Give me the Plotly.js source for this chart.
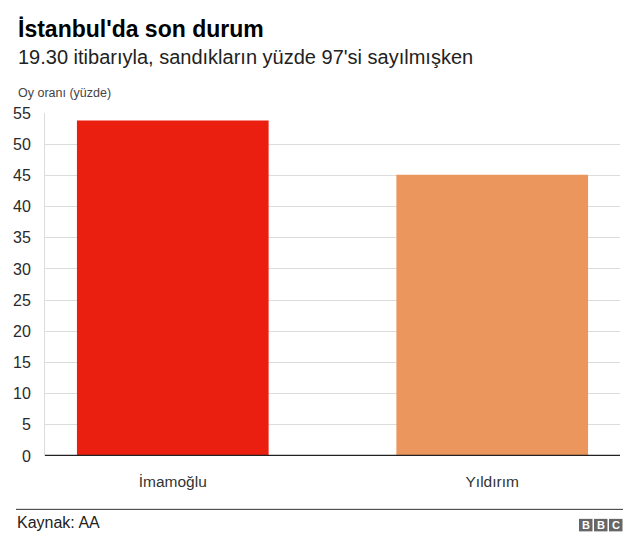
<!DOCTYPE html>
<html>
<head>
<meta charset="utf-8">
<script src="https://cdn.plot.ly/plotly-3.0.1.min.js"></script>
<style>html,body{margin:0;padding:0;background:#fff;}#chart{width:640px;height:553px;}</style>
</head>
<body>
<div id="chart"></div>
<script>
var categories = ["İmamoğlu", "Yıldırım"];
var values = [53.8, 45.1];
var barColors = ["#ea1f10", "#eb965c"];
var yTicks = [0, 5, 10, 15, 20, 25, 30, 35, 40, 45, 50, 55];

var FONT = "Liberation Sans, Arial, Helvetica, sans-serif";

// plot area geometry (pixels) used only to place decorative items in paper coords
var PL = 45, PW = 575, PB = 455.7, PH = 342.7;
function px(x) { return (x - PL) / PW; }
function py(y) { return (PB - y) / PH; }

var trace = {
  type: "bar",
  x: [0, 1],
  y: values,
  width: 0.6,
  marker: {color: barColors, line: {width: 0}},
  hoverinfo: "none"
};

var shapes = [
  {type: "line", xref: "paper", yref: "paper", x0: px(16), x1: px(623), y0: py(509), y1: py(509),
   line: {color: "#333", width: 1}},
  {type: "line", xref: "paper", yref: "y", x0: 0, x1: 1, y0: 0, y1: 0,
   line: {color: "#222", width: 2.5}}
];
var annotations = [
  {text: "<b>İstanbul'da son durum</b>", xref: "paper", yref: "paper", x: px(16), y: py(29.5),
   xanchor: "left", yanchor: "middle", showarrow: false,
   font: {family: FONT, size: 23, color: "#000"}},
  {text: "19.30 itibarıyla, sandıkların yüzde 97'si sayılmışken", xref: "paper", yref: "paper", x: px(16), y: py(57),
   xanchor: "left", yanchor: "middle", showarrow: false,
   font: {family: FONT, size: 20, color: "#222"}},
  {text: "Oy oranı (yüzde)", xref: "paper", yref: "paper", x: px(16), y: py(93.5),
   xanchor: "left", yanchor: "middle", showarrow: false,
   font: {family: FONT, size: 12.5, color: "#444"}},
  {text: "Kaynak: AA", xref: "paper", yref: "paper", x: px(15), y: py(522.5),
   xanchor: "left", yanchor: "middle", showarrow: false,
   font: {family: FONT, size: 16, color: "#222"}}
];
// BBC logo blocks
var bbc = ["B", "B", "C"];
for (var i = 0; i < 3; i++) {
  var x0 = 579 + i * 15;
  shapes.push({type: "rect", xref: "paper", yref: "paper",
    x0: px(x0), x1: px(x0 + 13.5),
    y0: py(531), y1: py(518.5),
    fillcolor: "#666", line: {width: 0}});
  annotations.push({text: "<b>" + bbc[i] + "</b>", xref: "paper", yref: "paper",
    x: px(x0 + 6.75), y: py(525), xanchor: "center", yanchor: "middle",
    showarrow: false, font: {family: FONT, size: 11, color: "#fff"}});
}

var layout = {
  width: 640, height: 553,
  margin: {l: PL, r: 640 - PL - PW, t: PB - PH, b: 553 - PB, pad: 0},
  paper_bgcolor: "#fff", plot_bgcolor: "#fff",
  showlegend: false,
  xaxis: {
    range: [-0.4, 1.4],
    tickvals: [0, 1], ticktext: categories,
    showgrid: false, zeroline: false,
    showline: false,
    ticks: "", ticklabelstandoff: 14,
    tickfont: {family: FONT, size: 15.5, color: "#333"},
    fixedrange: true
  },
  yaxis: {
    range: [0, 55],
    tickvals: yTicks,
    showgrid: true, gridcolor: "#dcdcdc", gridwidth: 1,
    zeroline: false,
    showline: true, linecolor: "#dcdcdc", linewidth: 1,
    ticks: "", ticklabelstandoff: 10,
    tickfont: {family: FONT, size: 16, color: "#2a2a2a"},
    fixedrange: true
  },
  shapes: shapes,
  annotations: annotations
};

Plotly.newPlot("chart", [trace], layout, {displayModeBar: false, staticPlot: true});
</script>
</body>
</html>
